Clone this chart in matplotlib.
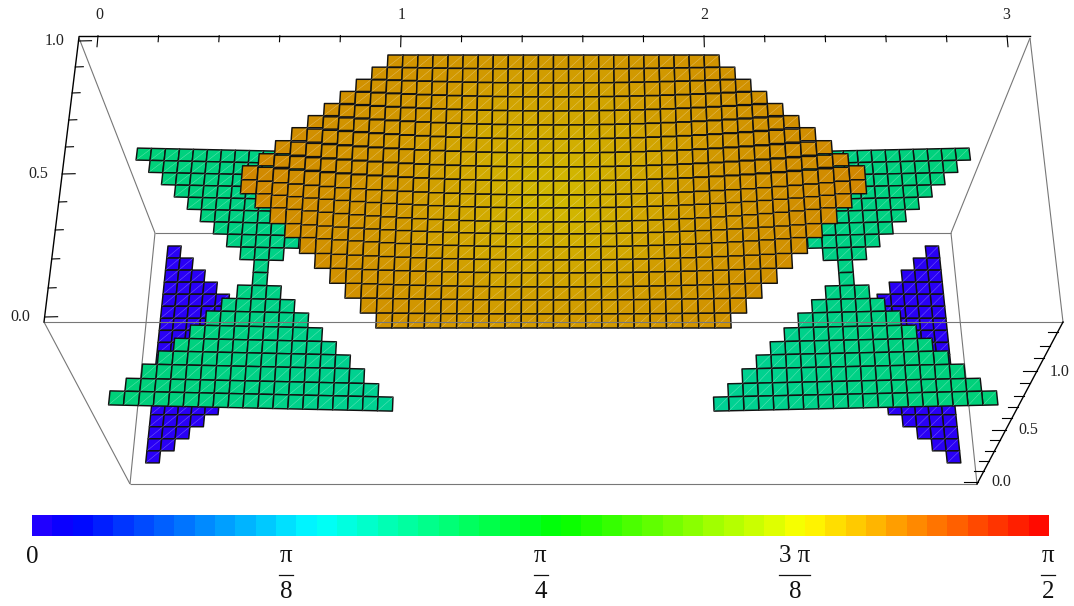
import numpy as np
import matplotlib
matplotlib.use('Agg')
import matplotlib.pyplot as plt
from matplotlib.collections import PolyCollection, LineCollection
from matplotlib.colors import LinearSegmentedColormap, hsv_to_rgb, Normalize

plt.rcParams['font.family'] = ['Liberation Serif', 'DejaVu Serif']

# cells per row of each sheet
blue_row_counts = [1, 2, 3, 4, 5, 6, 7, 8, 9, 9, 8, 7, 6, 5, 4, 3, 2, 1]
green_row_counts = [19, 17, 15, 13, 11, 9, 7, 5, 3, 1, 1, 3, 5, 7, 9, 11, 13, 15, 17, 19]
orange_row_half = [11, 12, 13, 14, 15, 16, 17, 18, 19, 20, 20, 19, 18, 17, 16, 15, 14, 13, 12, 11]

# colour values (0..pi/2)
blue_values = [0.0]
green_col_values = [0.600, 0.598, 0.595, 0.592, 0.590, 0.587, 0.585, 0.582, 0.580, 0.577,
                    0.574, 0.571, 0.568, 0.565, 0.562, 0.559, 0.556, 0.553, 0.550]
orange_radius_values = [1.238, 1.240, 1.244, 1.250, 1.256, 1.262, 1.268, 1.274, 1.280, 1.287, 1.294,
                        1.297, 1.300, 1.303, 1.306, 1.309, 1.312, 1.315, 1.319, 1.322, 1.326]

# axis ticks
x_tick_values = np.arange(0, 3.01, 0.2)
x_tick_labels = ['0', '1', '2', '3']
z_tick_values = [1.0, 0.9, 0.8, 0.7, 0.6, 0.5, 0.4, 0.3, 0.2, 0.1, 0.0]
y_tick_values = [0.0, 0.1, 0.2, 0.3, 0.4, 0.5, 0.6, 0.7, 0.8, 0.9, 1.0, 1.1, 1.2, 1.3]

# projection of the sheets onto the figure (picture pixels)
W, H = 1074, 606
MIRROR = 1106.5
z_tick_px = [41, 67, 93, 120, 147, 174, 202, 230, 259, 288, 317]
y_tick_px = [481.7, 470.7, 461, 450.7, 440, 430, 418.3, 407.3, 395.7, 383.3, 371, 358.3, 345.7, 332.3]
green_line_y = [151, 163, 175, 187, 199, 211, 223, 235, 247.5, 260, 272.5, 285.5, 299, 312,
                326.5, 340, 353, 366.5, 381, 394, 408]
orange_edge_y = [55, 67, 79, 91, 103, 115, 127, 140, 153, 165, 179, 193, 207, 223, 237,
                 253, 268, 283, 298, 313, 328]
orange_mid_y = [55, 69, 83, 97, 111, 125, 139, 153, 167, 181, 195, 208, 222, 234, 247,
                260, 273, 287, 300, 314, 328]

hues = np.linspace(250, 0, 251) / 360
cmap = LinearSegmentedColormap.from_list(
    'phase', hsv_to_rgb(np.column_stack([hues, np.ones(251), np.ones(251)])), N=512)
norm = Normalize(0, np.pi / 2)


def shaded(value, shade):
    r, g, b, _ = cmap(norm(value))
    return (r * shade, g * shade, b * shade)


def blue_point(col, line):
    return (168 - 1.24 * line + col * (13.2 + 0.02 * line), 246 + 12.05 * line)


def green_point(col, line):
    xc = 270.5 - line
    x = xc + col * (14.0 + 0.047 * line)
    return (x, green_line_y[line] + 0.022 * (x - xc))


def orange_point(col, line, half, mid):
    f = 1 - (abs(mid) / half) ** 2
    y = orange_edge_y[line] + (orange_mid_y[line] - orange_edge_y[line]) * f
    return (553.5 + col * (15.05 + 0.055 * line), y)


def add_cells(ax, quads, colors, zorder, mirror=True):
    quads = np.array(quads)
    for flip in ((False, True) if mirror else (False,)):
        q = quads.copy()
        if flip:
            q[:, :, 0] = MIRROR - q[:, :, 0]
        cells = PolyCollection(q, facecolors=colors, edgecolors='#111111',
                               linewidths=1.05, zorder=zorder)
        cells.set_snap(False)
        ax.add_collection(cells)
        # seam of the two triangles of every cell
        seams = q[:, [3, 1], :] if not flip else q[:, [2, 0], :]
        ax.add_collection(LineCollection(seams, colors='white', linewidths=0.4,
                                         alpha=0.35, zorder=zorder + 0.1))


fig = plt.figure(figsize=(W / 100, H / 100), dpi=100)
ax = fig.add_axes([0, 0, 1, 1])
ax.set_xlim(0, W)
ax.set_ylim(H, 0)
ax.axis('off')

# box
grey = '#777777'
box = [[(79, 38), (155, 233)], [(155, 233), (951, 233)], [(155, 233), (130, 484)],
       [(130, 484), (44, 322)], [(130, 484), (977, 484)], [(1030, 38), (951, 233)],
       [(951, 233), (977, 484)], [(1030, 38), (1063, 322)]]
ax.add_collection(LineCollection(box, colors=grey, linewidths=0.8, zorder=1))
ax.plot([44, 1063], [322, 322], color=grey, lw=0.8, zorder=6)

# blue sheet
quads, colors = [], []
for row, count in enumerate(blue_row_counts):
    for col in range(count):
        quads.append([blue_point(col, row), blue_point(col + 1, row),
                      blue_point(col + 1, row + 1), blue_point(col, row + 1)])
        colors.append(shaded(blue_values[0], 0.96))
add_cells(ax, quads, colors, 2)

# green sheet
quads, colors = [], []
for row, count in enumerate(green_row_counts):
    for k in range(count):
        col = k - count / 2
        quads.append([green_point(col, row), green_point(col + 1, row),
                      green_point(col + 1, row + 1), green_point(col, row + 1)])
        colors.append(shaded(green_col_values[int(col + 0.5) + 9], 0.82))
add_cells(ax, quads, colors, 3)

# orange sheet
quads, colors = [], []
for row, half in enumerate(orange_row_half):
    for col in range(-half, half):
        mid = col + 0.5
        quads.append([orange_point(col, row, half, mid), orange_point(col + 1, row, half, mid),
                      orange_point(col + 1, row + 1, half, mid),
                      orange_point(col, row + 1, half, mid)])
        radius = int(round(np.hypot(mid, row - 9.5)))
        colors.append(shaded(orange_radius_values[min(radius, 20)], 0.82))
add_cells(ax, quads, colors, 4, mirror=False)

label_style = dict(fontsize=11.5, va='center', color='#222222')

# top axis
ax.plot([79, 1030], [35.7, 35.7], color='black', lw=1.0, zorder=7)
for v in x_tick_values:
    px = 98 + 303 * v
    major = abs(v - round(v)) < 1e-6
    length = 11 if major else 6
    ax.plot([px, px + (px - 553) * 0.0022 * (length / 11)], [35.7, 35.7 + length],
            color='black', lw=0.8, zorder=7)
for i, label in enumerate(x_tick_labels):
    ax.text(99 + 302.5 * i, 15, label, ha='center', **label_style)

# left axis
ax.plot([79, 44], [37, 322], color='black', lw=1.0, zorder=7)
for v, py in zip(z_tick_values, z_tick_px):
    px = 79 - 35 * (py - 37) / 285
    major = v in (0.0, 0.5, 1.0)
    ax.plot([px, px + (13 if major else 8)], [py, py - 0.3], color='black', lw=0.8, zorder=7)
    if major:
        ax.text(px - 14, py, '%.1f' % v, ha='right', **label_style)

# right axis
ax.plot([977, 1063], [484, 322], color='black', lw=1.0, zorder=7)
for v, py in zip(y_tick_values, y_tick_px):
    px = 977 + (484 - py) * 86 / 162
    major = round(v * 10) % 5 == 0
    ax.plot([px - (14 if major else 10), px], [py, py], color='black', lw=0.8, zorder=7)
    if major:
        ax.text(px + 13, py + 0.5, '%.1f' % v, ha='left', **label_style)

# colour bar
cax = fig.add_axes([32 / W, 1 - 536 / H, 1017 / W, 21 / H])
steps = 50
edges = np.linspace(0, np.pi / 2, steps + 1)
cax.pcolormesh(edges, [0, 1], ((edges[:-1] + edges[1:]) / 2)[None, :], cmap=cmap, norm=norm)
cax.axis('off')

scale_x = ax.transData.inverted().transform(cax.transData.transform([(np.pi / 8 * i, 0) for i in range(5)]))[:, 0]
tex = dict(fontsize=18, ha='center', va='center', color='#111111')
ax.text(scale_x[0], 557, '0', **tex)
for i, top, bottom in [(1, 'π', '8'), (2, 'π', '4'), (3, '3 π', '8'), (4, 'π', '2')]:
    half = 15.5 if i == 3 else 7
    off = -1 if i == 4 else 0
    ax.text(scale_x[i] + off, 556, top, **tex)
    ax.plot([scale_x[i] + off - half, scale_x[i] + off + half], [575, 575], color='#111111', lw=0.9)
    ax.text(scale_x[i] + off, 592, bottom, **tex)

fig.savefig('out.png', dpi=100)
